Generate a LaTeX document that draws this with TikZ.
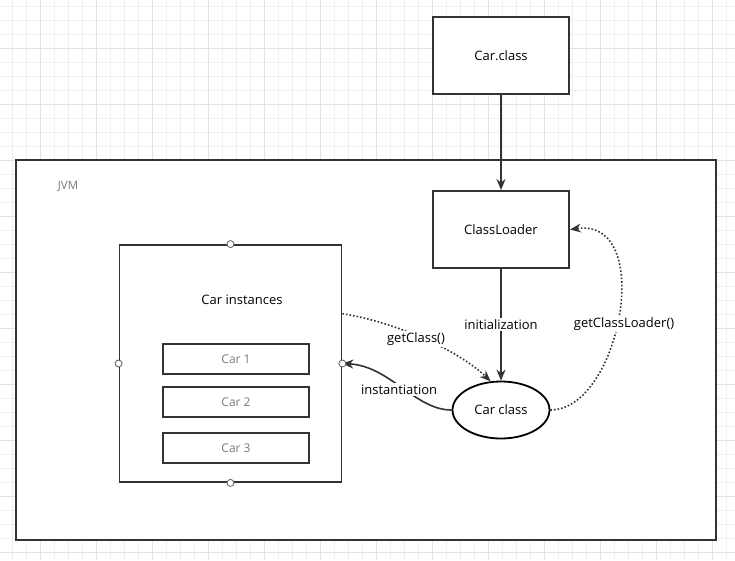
\documentclass[tikz,border=0pt]{standalone}
\usepackage{fontspec}
\setmainfont{Open Sans}
\usetikzlibrary{arrows.meta,shapes.geometric}

\definecolor{gridminor}{HTML}{F0F0F0}
\definecolor{gridmajor}{HTML}{E2E2E2}
\definecolor{edge}{HTML}{333333}
\definecolor{softtext}{HTML}{7A7A7A}

\tikzset{
  box/.style={draw=edge, line width=2pt, fill=white, minimum width=136pt,
    minimum height=77pt, inner sep=0pt, font=\fontsize{13}{15}\selectfont},
  frame/.style={draw=edge, line width=1.8pt, fill=white, inner sep=0pt},
  item/.style={draw=edge, line width=1.6pt, fill=white, minimum width=146pt,
    minimum height=30pt, inner sep=0pt, text=softtext, font=\fontsize{12}{14}\selectfont},
  port/.style={circle, draw=edge!80, line width=0.8pt, fill=white,
    minimum size=7pt, inner sep=0pt},
  oval/.style={ellipse, draw=black, line width=1.8pt, fill=white,
    minimum width=97pt, minimum height=57pt, inner sep=0pt,
    font=\fontsize{13}{15}\selectfont},
  lbl/.style={fill=white, inner sep=1.5pt, font=\fontsize{13}{15}\selectfont},
  flow/.style={draw=edge, line width=1.6pt, -{Stealth[length=11pt,width=9pt]}},
  ref/.style={draw=edge, line width=1.6pt, dotted, -{Stealth[length=11pt,width=9pt,line width=0pt]}}
}

\begin{document}
\begin{tikzpicture}[x=1pt,y=-1pt]
\useasboundingbox (0,0) rectangle (735,560);
\fill[white] (0,0) rectangle (735,560);

% background grid
\foreach \i in {0,...,52} \draw[gridminor, line width=0.8pt] ({12.7+14*\i},0) -- ({12.7+14*\i},560);
\foreach \j in {0,...,39} \draw[gridminor, line width=0.8pt] (0,{6.7+14*\j}) -- (735,{6.7+14*\j});
\foreach \i in {0,...,12} \draw[gridmajor, line width=0.9pt] ({40.7+56*\i},0) -- ({40.7+56*\i},560);
\foreach \j in {0,...,9} \draw[gridmajor, line width=0.9pt] (0,{48.7+56*\j}) -- (735,{48.7+56*\j});

% JVM container
\node[frame, minimum width=700pt, minimum height=380pt] (jvm) at (366,350) {};
\node[text=softtext, font=\fontsize{11.5}{13}\selectfont] (jvmlabel) at (68,186) {JVM};

% class file and loader
\node[box] (carclass) at (501,55.5) {Car.class};
\node[box] (loader) at (501,229.5) {ClassLoader};

% instances block
\node[frame, line width=1.8pt, minimum width=222pt, minimum height=237pt] (inst) at (230.5,363.5) {};
\node[font=\fontsize{13}{15}\selectfont] (insttitle) at (242,300) {Car instances};
\node[item] (car1) at (236,359) {Car 1};
\node[item] (car2) at (236,402) {Car 2};
\node[item] (car3) at (236,448) {Car 3};

% class object
\node[oval] (carcls) at (501,410) {Car class};

% connectors
\draw[flow] (carclass) -- (loader);
\draw[flow] (loader) -- node[lbl] (initlbl) {initialization} (carcls);
\draw[ref] (carcls.east) .. controls (620,410) and (656,218) .. (loader.east)
  node[lbl, pos=0.47, xshift=7pt] (gcllbl) {getClassLoader()};
\draw[ref] (inst.24.5) .. controls (395,322) and (458,350) .. (carcls.110)
  node[lbl, pos=0.45, yshift=-4pt] (gclbl) {getClass()};
\draw[flow] (carcls.west) .. controls (415,410) and (390,366) .. (inst.east)
  node[lbl, pos=0.52, yshift=-3pt] (instlbl) {instantiation};

% ports on the instances block
\node[port] (pn) at (inst.north) {};
\node[port] (ps) at (inst.south) {};
\node[port] (pw) at (inst.west) {};
\node[port] (pe) at (inst.east) {};
\end{tikzpicture}
\end{document}
